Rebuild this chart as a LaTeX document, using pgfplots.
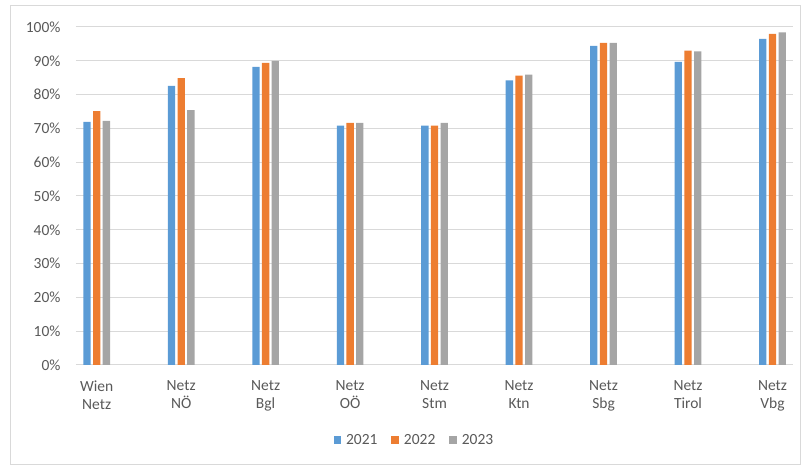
\documentclass[border=0pt]{standalone}
\usepackage{pgfplots}
\pgfplotsset{compat=1.18}
\usepackage{fontspec}
\setmainfont{Carlito}

\definecolor{c2021}{HTML}{5B9BD5}
\definecolor{c2022}{HTML}{ED7D31}
\definecolor{c2023}{HTML}{A5A5A5}
\definecolor{gridc}{HTML}{D9D9D9}
\definecolor{txt}{HTML}{595959}

\begin{document}
\begin{tikzpicture}
\useasboundingbox (0pt,0pt) rectangle (801pt,466pt);
\draw[gridc, line width=1pt] (10pt,1pt) rectangle (800pt,460pt);
\begin{axis}[
    at={(76pt,101pt)}, anchor=south west,
    scale only axis, width=717pt, height=338pt,
    ybar=2.4pt, bar width=7.3pt,
    xmin=-0.245, xmax=8.243,
    ymin=0, ymax=100,
    ytick={0,10,...,100},
    yticklabel={\pgfmathprintnumber{\tick}\%},
    /pgf/number format/assume math mode=true,
    xtick=data,
    xticklabels={{Wien\\Netz},{Netz\\NÖ},{Netz\\Bgl},{Netz\\OÖ},{Netz\\Stm},{Netz\\Ktn},{Netz\\Sbg},{Netz\\Tirol},{Netz\\Vbg}},
    xticklabel style={align=center, font=\fontsize{15.5}{18.5}\selectfont, text=txt, yshift=-12pt},
    yticklabel style={font=\fontsize{15.5}{18}\selectfont, text=txt, xshift=-12pt},
    major tick length=0pt,
    ymajorgrids, grid style={gridc, line width=1pt},
    axis line style={draw=none},
    axis x line*=bottom, axis y line*=left,
    legend style={at={(0.472,-0.222)}, anchor=center, draw=none,
        legend columns=3, font=\fontsize{15.5}{18}\selectfont, text=txt,
        /tikz/every odd column/.append style={column sep=3pt},
        /tikz/every even column/.append style={column sep=12pt}},
    legend image code/.code={\fill[#1] (0pt,-3.7pt) rectangle (7.5pt,3.7pt);},
]
\draw[gridc, line width=1pt] (rel axis cs:0,0) -- (rel axis cs:1,0);
\addplot[fill=c2021, draw=none] coordinates {(0,71.9) (1,82.6) (2,88.2) (3,70.8) (4,70.8) (5,84.2) (6,94.4) (7,89.7) (8,96.5)};
\addplot[fill=c2022, draw=none] coordinates {(0,75.1) (1,84.9) (2,89.4) (3,71.6) (4,70.8) (5,85.6) (6,95.3) (7,93.0) (8,98.0)};
\addplot[fill=c2023, draw=none] coordinates {(0,72.2) (1,75.4) (2,90.0) (3,71.6) (4,71.6) (5,85.9) (6,95.3) (7,92.8) (8,98.4)};
\legend{2021,2022,2023}
\end{axis}
\end{tikzpicture}
\end{document}
